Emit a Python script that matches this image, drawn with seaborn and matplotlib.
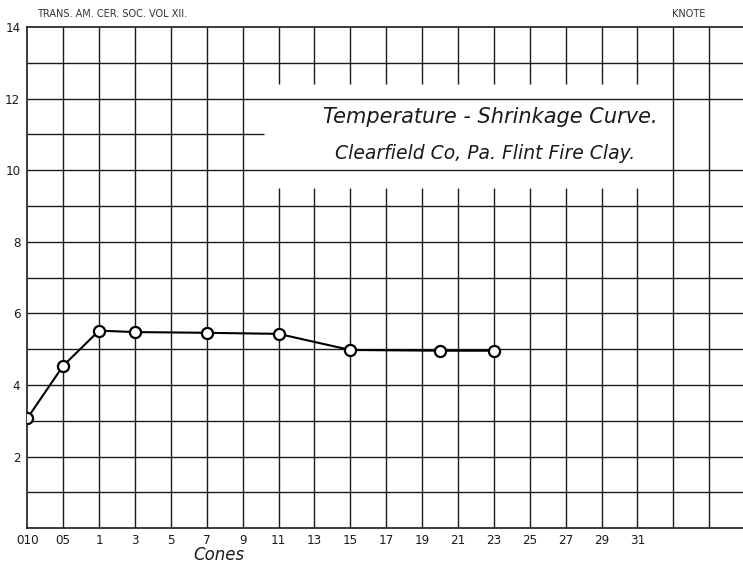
import matplotlib
matplotlib.use('Agg')
import matplotlib.pyplot as plt
import seaborn as sns
import pandas as pd

# Cone scale printed along the bottom of the sheet
cone_ticks = ['010', '05', '1', '3', '5', '7', '9', '11', '13', '15',
              '17', '19', '21', '23', '25', '27', '29', '31']
# Measured points (linear shrinkage, per cent)
measured_cones = ['010', '05', '1', '3', '7', '11', '15', '20', '23']
shrinkage = [3.07, 4.54, 5.52, 5.48, 5.46, 5.43, 4.98, 4.96, 4.96]
y_ticks = [2, 4, 6, 8, 10, 12, 14]


def cone_position(label):
    # 010 and 05 get one column each, then odd cones 1, 3, 5 ... one column each
    if label == '010':
        return 0
    if label == '05':
        return 1
    return 2 + (int(label) - 1) / 2


df = pd.DataFrame({
    'pos': [cone_position(c) for c in measured_cones],
    'shrinkage': shrinkage,
})

sns.set_theme(style='white')
plt.rcParams['font.family'] = ['DejaVu Sans']

fig = plt.figure(figsize=(7.43, 5.66), dpi=100)
ax = fig.add_axes([0.0367, 0.0666, 0.9633, 0.8857])

x_max = 19.94
ax.set_xlim(0, x_max)
ax.set_ylim(0, 14)

grid_kw = dict(color='#1a1a1a', linewidth=1.0, zorder=1)

# horizontal rulings (the one at 11 stops short of the title box)
for y in range(1, 14):
    if y == 11:
        ax.hlines(y, 0, 6.6, **grid_kw)
    else:
        ax.hlines(y, 0, x_max, **grid_kw)

# vertical rulings, erased behind the title box
for x in range(1, 20):
    if 7 <= x <= 17:
        ax.vlines(x, 0, 9.5, **grid_kw)
        ax.vlines(x, 12.4, 14, **grid_kw)
    else:
        ax.vlines(x, 0, 14, **grid_kw)

sns.lineplot(data=df, x='pos', y='shrinkage', ax=ax, color='black',
             linewidth=1.5, marker='o', markersize=8,
             markerfacecolor='white', markeredgecolor='black',
             markeredgewidth=1.6, zorder=3)

for side in ['left', 'bottom', 'top']:
    ax.spines[side].set_visible(True)
    ax.spines[side].set_color('#1a1a1a')
    ax.spines[side].set_linewidth(1.2)
ax.spines['right'].set_visible(False)

ax.set_xticks([cone_position(c) for c in cone_ticks])
ax.set_xticklabels(cone_ticks, fontsize=9.5, fontstretch='condensed')
ax.set_yticks(y_ticks)
ax.set_yticklabels([str(v) for v in y_ticks], fontsize=9.5,
                   fontstretch='condensed')
ax.tick_params(axis='x', length=0, pad=4, colors='#1a1a1a')
ax.tick_params(axis='y', length=0, pad=5, colors='#1a1a1a')
ax.set_xlabel('')
ax.set_ylabel('')

ax.text(12.89, 11.49, 'Temperature - Shrinkage Curve.', ha='center',
        va='center', fontsize=15, style='italic', fontweight='light',
        color='#1a1a1a')
ax.text(12.75, 10.48, 'Clearfield Co, Pa. Flint Fire Clay.', ha='center',
        va='center', fontsize=13.5, style='italic', fontweight='light',
        color='#1a1a1a')

fig.text(37 / 743, 1 - 14 / 566, 'TRANS. AM. CER. SOC. VOL XII.',
         ha='left', va='center', fontsize=7, color='#333333')
fig.text(672 / 743, 1 - 14 / 566, 'KNOTE', ha='left', va='center',
         fontsize=7, color='#333333')
fig.text(219 / 743, 1 - 555 / 566, 'Cones', ha='center', va='center',
         fontsize=12, style='italic', color='#1a1a1a')

fig.savefig('out.png', dpi=100, facecolor='white')
